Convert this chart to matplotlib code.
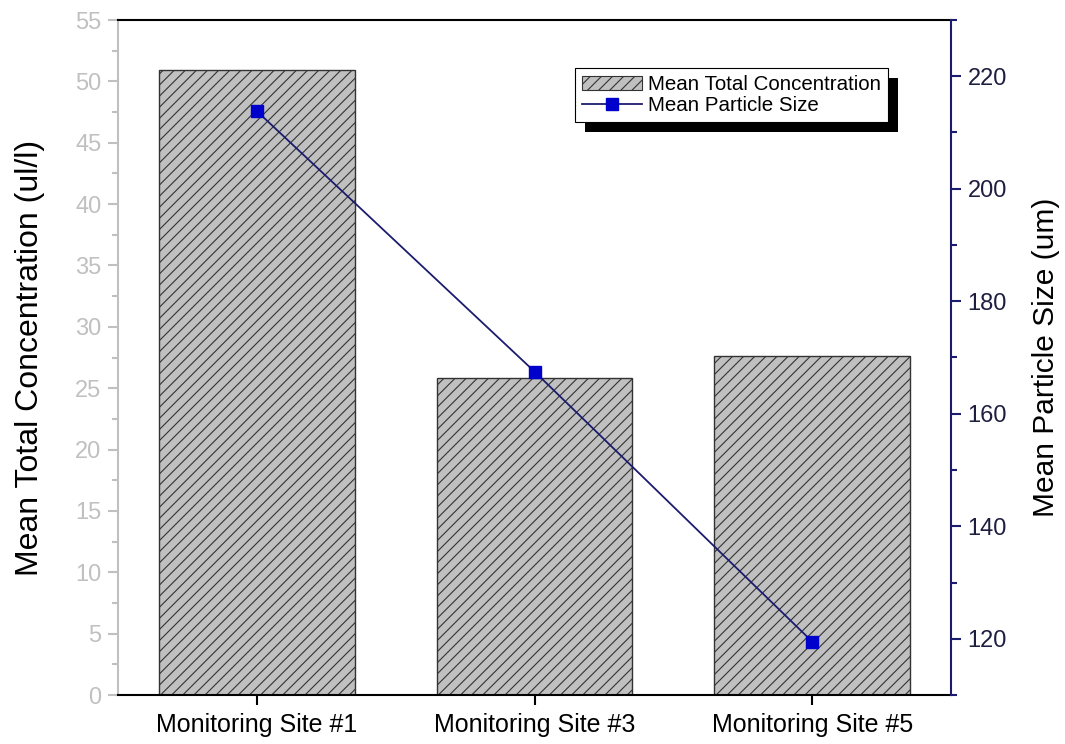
import matplotlib
matplotlib.use("Agg")
import matplotlib.pyplot as plt
from matplotlib.ticker import MultipleLocator
from matplotlib.patches import Rectangle, Patch
from matplotlib.lines import Line2D
from matplotlib.transforms import IdentityTransform

plt.rcParams['font.family'] = ['Liberation Sans', 'DejaVu Sans']
plt.rcParams['hatch.linewidth'] = 0.8

categories = ["Monitoring Site #1", "Monitoring Site #3", "Monitoring Site #5"]
concentration = [50.9, 25.8, 27.6]
particle_size = [213.8, 167.5, 119.5]

gray = '#c0c0c0'
navy = '#1c1c6e'

fig = plt.figure(figsize=(10.65, 7.44), dpi=100)
ax = fig.add_axes([118/1065, 49/744, (951-118)/1065, (695-20)/744])
x = list(range(len(categories)))
ax.bar(x, concentration, width=0.705, color='#c0c0c0', edgecolor='#333333',
       hatch='///', linewidth=1.0, zorder=2)
ax.set_xlim(-0.5, 2.5)
ax.set_ylim(0, 55)
ax.yaxis.set_major_locator(MultipleLocator(5))
ax.yaxis.set_minor_locator(MultipleLocator(2.5))
ax.set_xticks(x)
ax.set_xticklabels(categories, fontsize=18)
ax.tick_params(axis='x', direction='out', length=7, width=1.5, colors='black', pad=6)
ax.tick_params(axis='y', which='major', direction='out', length=7, width=1.5,
               colors=gray, labelsize=17, labelcolor=gray, pad=5)
ax.tick_params(axis='y', which='minor', direction='out', length=4, width=1.5, colors=gray)
ax.spines['left'].set_color(gray)
ax.spines['left'].set_linewidth(1.5)
ax.spines['top'].set_linewidth(1.5)
ax.spines['bottom'].set_linewidth(1.5)
ax.spines['right'].set_visible(False)
ax.set_ylabel("Mean Total Concentration (ul/l)", fontsize=23, color='black')
ax.yaxis.set_label_coords(-0.088, 0.5)

ax2 = ax.twinx()
ax2.plot(x, particle_size, color=navy, linewidth=1.3, marker='s', markersize=9,
         markerfacecolor='#0000cc', markeredgecolor='#0000cc', zorder=3)
ax2.set_ylim(110, 230)
ax2.yaxis.set_major_locator(MultipleLocator(20))
ax2.yaxis.set_minor_locator(MultipleLocator(10))
ax2.set_yticks([120, 140, 160, 180, 200, 220])
ax2.tick_params(axis='y', which='major', direction='out', length=7, width=1.5,
                colors=navy, labelsize=17, labelcolor='#1e1e40', pad=5)
ax2.tick_params(axis='y', which='minor', direction='out', length=4, width=1.5, colors=navy)
ax2.spines['right'].set_color(navy)
ax2.spines['right'].set_linewidth(1.5)
for s in ['left', 'top', 'bottom']:
    ax2.spines[s].set_visible(False)
ax2.set_ylabel("Mean Particle Size (um)", fontsize=21.5, color='black')
ax2.yaxis.set_label_coords(1.097, 0.5)

handles = [Patch(facecolor='#c0c0c0', edgecolor='#333333', hatch='///', linewidth=0.8),
           Line2D([0], [0], color=navy, linewidth=1.3, marker='s', markersize=9,
                  markerfacecolor='#0000cc', markeredgecolor='#0000cc')]
leg = ax2.legend(handles, ["Mean Total Concentration", "Mean Particle Size"],
                 loc='upper left', bbox_to_anchor=((575-118)/833, (695-68)/675),
                 frameon=True, fancybox=False, edgecolor='black', fontsize=14.8,
                 borderpad=0.35, labelspacing=0.1, handlelength=2.9, handletextpad=0.3,
                 borderaxespad=0, framealpha=1)
leg.get_frame().set_linewidth(0.8)
leg.set_zorder(10)

fig.canvas.draw()
bb = leg.get_window_extent()
off = 10
shadow = Rectangle((bb.x0 + off, bb.y0 - off), bb.width, bb.height,
                   transform=IdentityTransform(), facecolor='black', edgecolor='none', zorder=9)
ax2.add_artist(shadow)
ax2.set_zorder(1)
ax.set_zorder(0)

fig.savefig("out.png", dpi=100)
